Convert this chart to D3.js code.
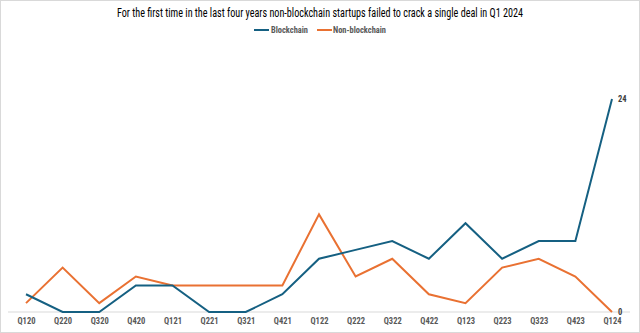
<!DOCTYPE html>
<html><head><meta charset="utf-8">
<script src="https://cdn.jsdelivr.net/npm/d3@7"></script>
<style>body{margin:0;background:#fff}svg{display:block}</style>
</head><body><svg id="c" width="640" height="333"></svg>
<script>
const quarters = ["Q120","Q220","Q320","Q420","Q121","Q221","Q321","Q421","Q122","Q222","Q322","Q422","Q123","Q223","Q323","Q423","Q124"];
const blockchain = [2,0,0,3,3,0,0,2,6,7,8,6,10,6,8,8,24];
const nonBlockchain = [1,5,1,4,3,3,3,3,11,4,6,2,1,5,6,4,0];
const seriesNames = ["Blockchain","Non-blockchain"];
const colors = ["#156082","#E97132"];
const title = "For the first time in the last four years non-blockchain startups failed to crack a single deal in Q1 2024";

const svg = d3.select("#c");
const W = 640, H = 333;
const font = "'Liberation Sans Narrow','Arial Narrow','Roboto Condensed',sans-serif";

svg.append("rect").attr("x",0.5).attr("y",0.5).attr("width",W-1).attr("height",H-1)
  .attr("fill","#fff").attr("stroke","#d9d9d9");

svg.append("text").attr("x",320).attr("y",16.5).attr("text-anchor","middle")
  .attr("font-family",font).attr("font-size",12.5).attr("font-weight","normal").attr("fill","#000")
  .attr("textLength",406).attr("lengthAdjust","spacingAndGlyphs").text(title);

const x = d3.scalePoint().domain(quarters).range([26,612]);
const y = d3.scaleLinear().domain([0,24]).range([312,99]);

// baseline
svg.append("line").attr("x1",8).attr("x2",630).attr("y1",y(0)).attr("y2",y(0))
  .attr("stroke","#d9d9d9").attr("stroke-width",1);

const xAxis = d3.axisBottom(x).tickSize(0).tickPadding(5);
const gx = svg.append("g").attr("transform",`translate(0,${y(0)+1})`).call(xAxis);
gx.select(".domain").remove();
gx.selectAll("text").attr("font-family",font).attr("font-size",8.5).attr("font-weight","bold").attr("fill","#595959");

const line = d3.line().x((d,i)=>x(quarters[i])).y(d=>y(d));
[nonBlockchain, blockchain].forEach((s,k)=>{
  const ci = k===0?1:0;
  svg.append("path").datum(s).attr("d",line).attr("fill","none")
    .attr("stroke",colors[ci]).attr("stroke-width",2).attr("stroke-linejoin","miter");
});

// end labels
const last = quarters.length-1;
[blockchain[last], nonBlockchain[last]].forEach(v=>{
  svg.append("text").attr("x",x(quarters[last])+6).attr("y",y(v)+3)
    .attr("font-family",font).attr("font-size",8.5).attr("font-weight","bold").attr("fill","#404040").text(v);
});

// legend
const leg = [{name:seriesNames[0],c:colors[0],x1:254,tx:271,w:37},{name:seriesNames[1],c:colors[1],x1:317,tx:333,w:53}];
leg.forEach(l=>{
  svg.append("line").attr("x1",l.x1).attr("x2",l.x1+15).attr("y1",30).attr("y2",30).attr("stroke",l.c).attr("stroke-width",2);
  svg.append("text").attr("x",l.tx).attr("y",33).attr("font-family",font).attr("font-size",8.5)
    .attr("font-weight","bold").attr("fill","#595959")
    .attr("textLength",l.w).attr("lengthAdjust","spacingAndGlyphs").text(l.name);
});
</script></body></html>
